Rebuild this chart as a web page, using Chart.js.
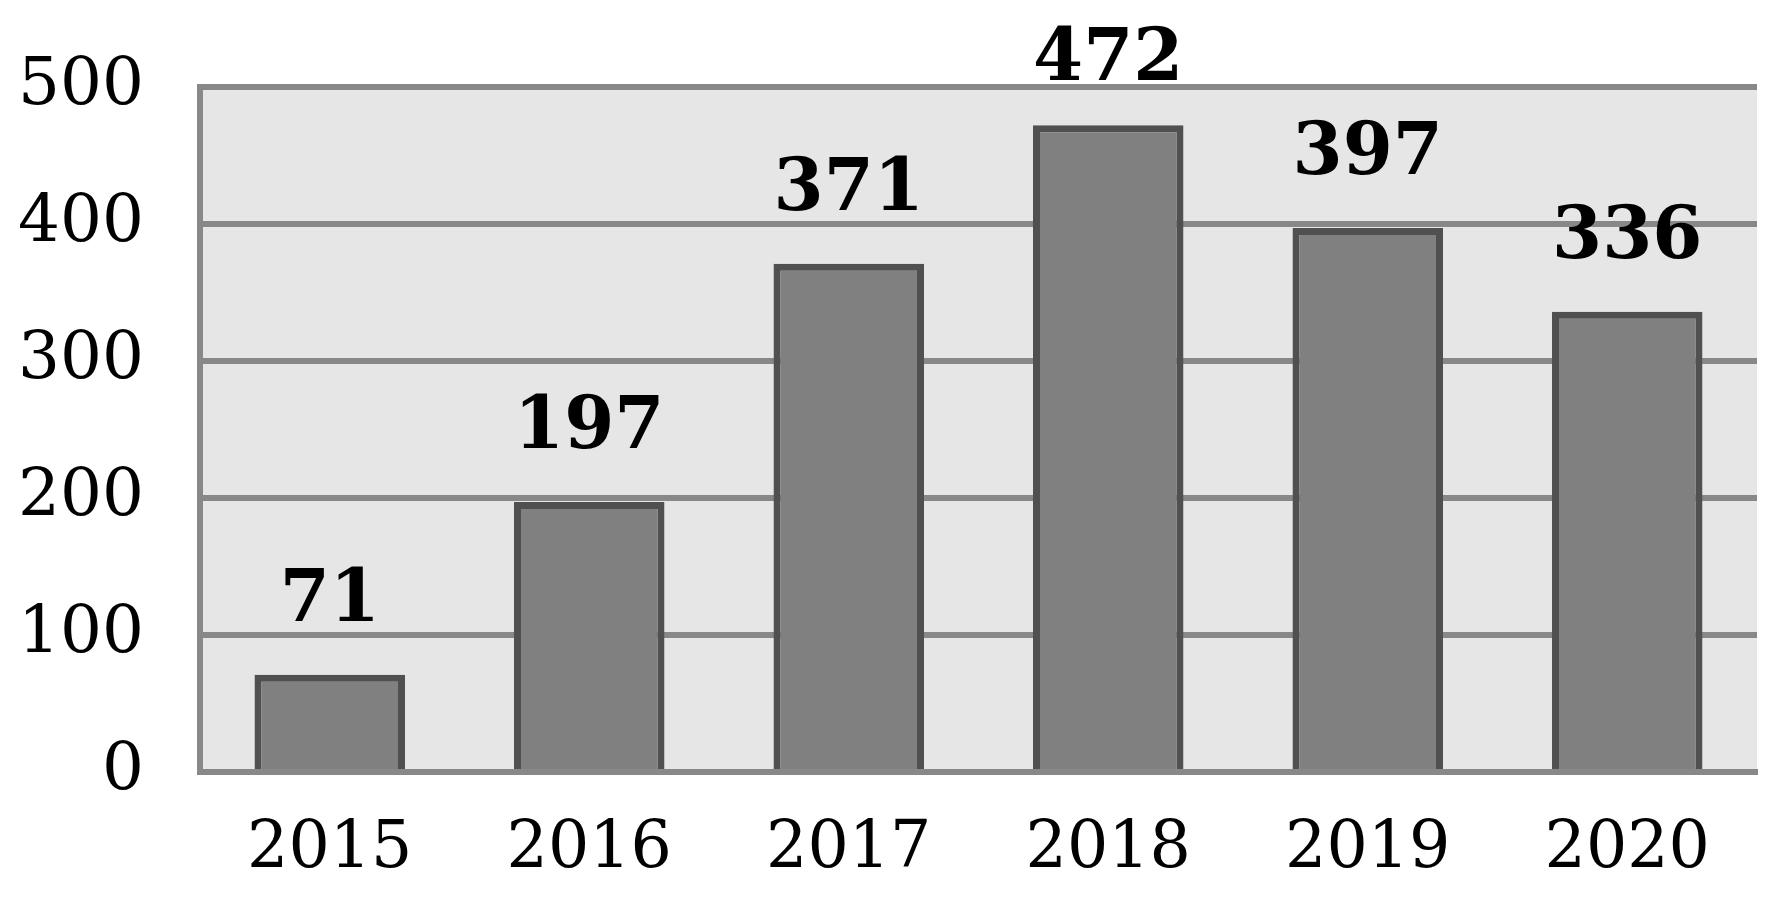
<!DOCTYPE html>
<html>
<head>
<meta charset="utf-8">
<script src="https://cdn.jsdelivr.net/npm/chart.js@4/dist/chart.umd.min.js"></script>
<style>
  html, body { margin: 0; padding: 0; background: #fff; }
  #wrap { width: 1782px; height: 899px; }
</style>
</head>
<body>
<div id="wrap"><canvas id="chart"></canvas></div>
<script>
const YEARS = ['2015', '2016', '2017', '2018', '2019', '2020'];
const VALUES = [71, 197, 371, 472, 397, 336];
const Y_MAX = 500;
const Y_STEP = 100;

const SERIF = '"DejaVu Serif", serif';

// grey plot background behind grid and bars
const plotBackground = {
  id: 'plotBackground',
  beforeDraw(chart) {
    const { ctx, chartArea } = chart;
    ctx.save();
    ctx.fillStyle = '#e6e6e6';
    ctx.fillRect(chartArea.left, chartArea.top, chartArea.right - chartArea.left, chartArea.bottom - chartArea.top);
    ctx.restore();
  },
};

// bold value above each bar, kept inside the canvas top
const valueLabels = {
  id: 'valueLabels',
  afterDatasetsDraw(chart) {
    const { ctx } = chart;
    const meta = chart.getDatasetMeta(0);
    ctx.save();
    ctx.font = 'bold 72px ' + SERIF;
    ctx.fillStyle = '#000';
    ctx.textAlign = 'center';
    ctx.textBaseline = 'alphabetic';
    meta.data.forEach((bar, i) => {
      const y = Math.max(bar.y - 54, 80);
      ctx.fillText(String(VALUES[i]), bar.x, y);
    });
    ctx.restore();
  },
};

const chartConfig = {
  type: 'bar',
  data: {
    labels: YEARS,
    datasets: [{
      data: VALUES,
      backgroundColor: '#808080',
      borderColor: '#505050',
      borderWidth: 7,
      borderSkipped: 'bottom',
      categoryPercentage: 1,
      barPercentage: 0.58,
    }],
  },
  options: {
    responsive: true,
    maintainAspectRatio: false,
    animation: false,
    layout: { padding: { top: 87, right: 25, left: 0, bottom: 0 } },
    plugins: {
      legend: { display: false },
      tooltip: { enabled: false },
    },
    scales: {
      x: {
        grid: { display: false, drawTicks: false },
        border: { display: true, color: '#888888', width: 6 },
        ticks: {
          color: '#000',
          font: { family: SERIF, size: 65 },
          padding: 39,
        },
        afterFit(scale) { scale.height = 127; },
      },
      y: {
        min: 0,
        max: Y_MAX,
        grid: { color: '#888888', lineWidth: 6, drawTicks: false },
        border: { display: true, color: '#888888', width: 6 },
        ticks: {
          stepSize: Y_STEP,
          color: '#000',
          font: { family: SERIF, size: 66 },
          padding: 56,
        },
        afterFit(scale) {
          scale.width = 200;
          // tick padding should not push the plot top down
          scale.paddingTop = 0;
          scale.paddingBottom = 0;
        },
      },
    },
  },
  plugins: [plotBackground, valueLabels],
};

new Chart(document.getElementById('chart'), chartConfig);
</script>
</body>
</html>
